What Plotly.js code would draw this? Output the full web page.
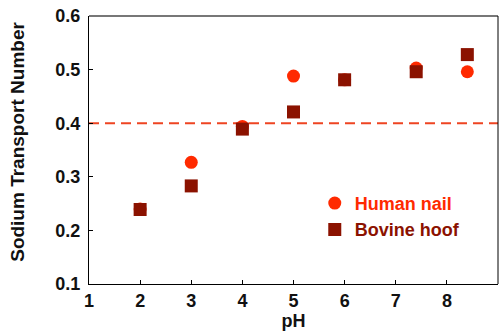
<!DOCTYPE html>
<html><head><meta charset="utf-8">
<script src="https://cdn.plot.ly/plotly-3.0.1.min.js"></script>
<style>html,body{margin:0;padding:0;background:#fff}#chart{width:499px;height:331px}</style>
</head><body><div id="chart"></div>
<script>
const nailPH = [2, 3, 4, 5, 6, 7.4, 8.4];
const nailValues = [0.24, 0.327, 0.394, 0.488, 0.481, 0.503, 0.496];
const hoofPH = [2, 3, 4, 5, 6, 7.4, 8.4];
const hoofValues = [0.239, 0.283, 0.389, 0.421, 0.481, 0.496, 0.528];
const refLineX = [1, 9];
const refLineY = [0.4, 0.4];
const xTicks = [1, 2, 3, 4, 5, 6, 7, 8, 9];
const yTicks = [0.1, 0.2, 0.3, 0.4, 0.5, 0.6];

const FONT = {family: 'Liberation Sans, Arial, sans-serif', size: 18, color: '#111', weight: 'bold'};
const traces = [
  {x: refLineX, y: refLineY, mode: 'lines', showlegend: false, hoverinfo: 'skip',
   line: {color: '#ee4422', width: 2, dash: '10px,6px'}},
  {x: nailPH, y: nailValues, mode: 'markers', name: '<span style="color:#ff2a00">Human nail</span>',
   marker: {symbol: 'circle', size: 13, color: '#ff2a00'}},
  {x: hoofPH, y: hoofValues, mode: 'markers', name: '<span style="color:#8b1200">Bovine hoof</span>',
   marker: {symbol: 'square', size: 13, color: '#8b1200'}}
];
const layout = {
  width: 499, height: 331,
  margin: {l: 89, r: 1, t: 16, b: 47},
  paper_bgcolor: '#fff', plot_bgcolor: '#fff',
  font: FONT,
  showlegend: true,
  legend: {x: 0.552, xanchor: 'left', y: 0.37, yanchor: 'top', bgcolor: 'rgba(0,0,0,0)',
           font: {family: FONT.family, size: 18, weight: 'bold'}, tracegroupgap: 0},
  xaxis: {range: [1, 9], tickvals: xTicks, ticktext: xTicks.map(String),
          showgrid: false, zeroline: false, showline: true, linecolor: '#000', linewidth: 1,
          ticks: 'inside', ticklen: 4, tickcolor: '#000', mirror: false,
          title: {text: 'pH', font: {size: 18, weight: 'bold'}, standoff: 4}},
  yaxis: {range: [0.1, 0.6], tickvals: yTicks, ticktext: yTicks.map(v => v.toFixed(1)),
          showgrid: false, zeroline: false, showline: true, linecolor: '#000', linewidth: 1,
          ticks: 'inside', ticklen: 4, tickcolor: '#000', ticklabelstandoff: 4},
  annotations: [
    {text: 'Sodium Transport Number', textangle: -90, xref: 'paper', yref: 'paper',
     x: -0.174, y: 0.53, xanchor: 'center', yanchor: 'middle', showarrow: false,
     font: {family: FONT.family, size: 19, weight: 'bold', color: '#111'}}
  ],
  shapes: [
    {type: 'line', xref: 'paper', yref: 'paper', x0: 0, x1: 1, y0: 1, y1: 1, line: {color: '#777', width: 2}},
    {type: 'line', xref: 'paper', yref: 'paper', x0: 1, x1: 1, y0: 0, y1: 1, line: {color: '#000', width: 1}}
  ]
};
Plotly.newPlot('chart', traces, layout, {staticPlot: true, displayModeBar: false});
</script></body></html>
